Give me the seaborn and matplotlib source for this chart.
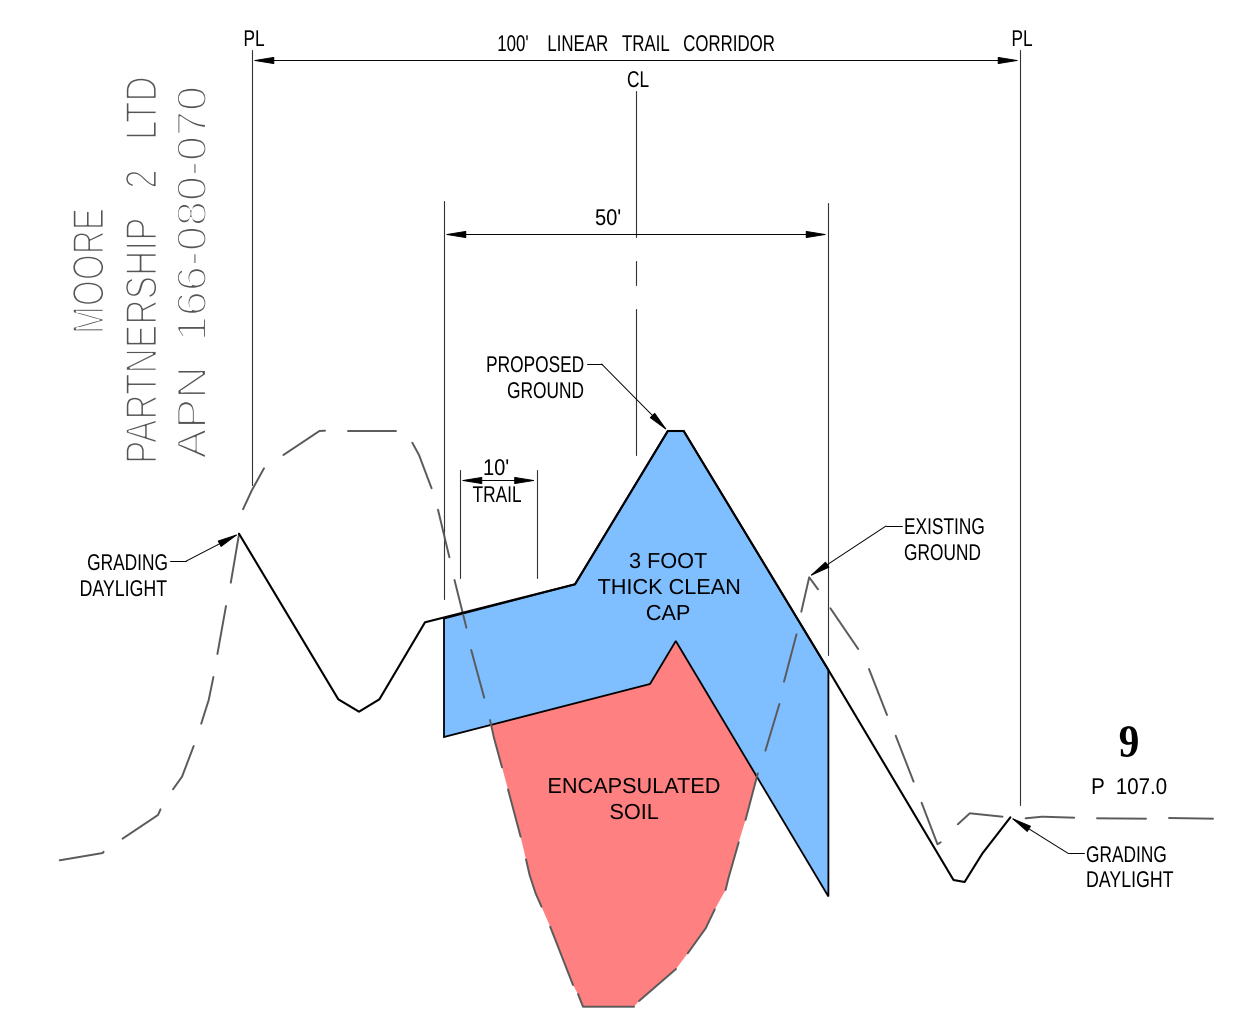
import pandas as pd
import seaborn as sns
import matplotlib.pyplot as plt
import matplotlib.patheffects as pe
from matplotlib.transforms import Affine2D

# Ground profiles (x, y in drawing units)
proposed_x = [239, 338.3, 359, 379.4, 425, 575, 667.8, 683.7, 828.4, 953.5, 964.6, 982.5, 1010.4]
proposed_y = [533.7, 699.3, 711.7, 699.3, 622.3, 584.3, 431, 431, 670, 880, 882, 853.3, 817.3]

# Existing ground is dashed by hand in the CAD file, one list per dash
existing_dashes = [
    [(59.7, 860.3), (102.8, 853), (103.6, 851.7)],
    [(122.5, 838.7), (158, 815), (160.5, 809.3)],
    [(173, 789.3), (182, 776.7), (193.7, 746)],
    [(201.2, 723.7), (208.7, 700), (213.4, 677)],
    [(217.4, 654), (226, 606)],
    [(230.8, 582.7), (239, 534.3)],
    [(243, 509.3), (252, 490), (264, 468.3)],
    [(283.4, 455), (319.4, 431), (325, 430.7)],
    [(347.8, 430.7), (396.4, 430.7)],
    [(412.3, 442.7), (419, 455), (431.6, 488.3)],
    [(438, 509.7), (449.4, 557.3)],
    [(454.5, 580), (466.4, 627.7)],
    [(471.2, 650), (484.2, 697.7)],
    [(490, 720), (494, 738), (502, 767.3)],
    [(508, 789.3), (520.6, 836.7)],
    [(526, 859.3), (529.6, 875), (535.6, 893.3), (541.5, 906.7)],
    [(550.2, 926.7), (573, 985)],
    [(578, 994), (583, 1006.7), (634, 1006.7)],
    [(639, 1001), (676, 969)],
    [(687.7, 953.3), (705.7, 928.3), (714.8, 909.3)],
    [(725.6, 890), (728.4, 878.3), (738.7, 842.3)],
    [(745.5, 820), (757.8, 773.3)],
    [(765.4, 750.7), (779.4, 704)],
    [(784, 681.7), (796.5, 634.3)],
    [(801.3, 611.7), (809.2, 577.3), (818, 589.3)],
    [(830.4, 608.3), (858.2, 649)],
    [(869, 669), (887, 715)],
    [(895.7, 735.7), (913.6, 781.7)],
    [(921.6, 802.7), (937.5, 844.3), (940.7, 842.3)],
    [(957.8, 824.3), (969.8, 813.3), (1002.5, 816.7)],
    [(1025.6, 818.3), (1042.3, 816.7), (1074.2, 817.7)],
    [(1097, 818.3), (1146, 818.7)],
    [(1169, 818), (1213, 818.7)],
]

cap_x = [444, 575, 667.8, 683.7, 828.4, 828.4, 675.8, 650, 444]
cap_y = [618.5, 584.3, 431, 431, 670, 896.5, 641, 684, 737]

soil_x = [491, 650, 675.8, 757.8, 745.5, 738.7, 728.4, 725.6, 714.8, 705.7, 687.7, 676, 639, 634,
          583, 578, 573, 550.2, 541.5, 535.6, 529.6, 526, 520.6, 508, 502, 494]
soil_y = [724, 684, 641, 773.3, 820, 842.3, 878.3, 890, 909.3, 928.3, 953.3, 969, 1001, 1006.7,
          1006.7, 994, 985, 926.7, 906.7, 893.3, 875, 859.3, 836.7, 789.3, 767.3, 738]

# Witness lines: x, top, bottom
witness_lines = [
    (252, 50, 485), (1020, 50, 805),
    (636, 91, 237), (636, 261, 285), (636, 309, 455),
    (444, 201, 599), (828, 203, 655),
    (460, 470, 578), (536.5, 470, 578),
]
# Dimension arrows: y, left, right
dimensions = [(60.5, 252, 1020), (234.5, 444, 828), (480.5, 460, 536.5)]
# Leaders: text end, elbow, arrow tip
leaders = [
    ((587, 364), (601.6, 364), (667.8, 431)),
    ((170, 561.3), (185.8, 561.3), (239, 533.7)),
    ((902, 526), (886, 526), (809, 576.7)),
    ((1084, 853.3), (1068, 853.3), (1010.4, 817.3)),
]

BLUE = "#80BFFF"
RED = "#FF8080"
GROUND = "#5A5A5A"
SANS = "Liberation Sans"

sns.set_theme(style="white")
fig, ax = plt.subplots(figsize=(12.44, 10.15), dpi=100)
fig.subplots_adjust(0, 0, 1, 1)
ax.set_xlim(0, 1244)
ax.set_ylim(1015, 0)
ax.set_axis_off()

ax.fill(soil_x, soil_y, color=RED, lw=0, zorder=1)
ax.fill(cap_x, cap_y, facecolor=BLUE, edgecolor="black", lw=1.3, zorder=2)

rows = []
for i, dash in enumerate(existing_dashes):
    for x, y in dash:
        rows.append({"dash": i, "x": x, "y": y})
existing = pd.DataFrame(rows)
sns.lineplot(data=existing, x="x", y="y", units="dash", estimator=None, sort=False,
             color=GROUND, lw=1.4, ax=ax, legend=False, zorder=3)

proposed = pd.DataFrame({"x": proposed_x, "y": proposed_y})
sns.lineplot(data=proposed, x="x", y="y", estimator=None, sort=False,
             color="black", lw=1.5, ax=ax, legend=False, zorder=4)

for x, top, bottom in witness_lines:
    ax.plot([x, x], [top, bottom], color="#333333", lw=0.8, zorder=2)


def arrow(tip, start):
    ax.annotate("", xy=tip, xytext=start,
                arrowprops=dict(arrowstyle="-|>,head_length=1.35,head_width=0.22", mutation_scale=10,
                                shrinkA=0, shrinkB=0, color="black", lw=0.7), zorder=5)


for y, left, right in dimensions:
    mid = (left + right) / 2
    arrow((left, y), (mid, y))
    arrow((right, y), (mid, y))

for end, elbow, tip in leaders:
    ax.plot([end[0], elbow[0]], [end[1], elbow[1]], color="black", lw=0.7, zorder=5)
    arrow(tip, elbow)


# No narrow CAD font is installed, so squeeze the glyph outlines about the text anchor
class Squeeze(pe.AbstractPathEffect):
    def __init__(self, anchor, sx=1.0, sy=1.0, erode=0.0):
        super().__init__()
        self.anchor = anchor
        self.sx = sx
        self.sy = sy
        self.erode = erode

    def draw_path(self, renderer, gc, tpath, affine, rgbFace=None):
        cx, cy = self.anchor
        squeezed = affine + Affine2D().translate(-cx, -cy).scale(self.sx, self.sy).translate(cx, cy)
        gc2 = renderer.new_gc()
        gc2.copy_properties(gc)
        if self.erode:
            gc2.set_linewidth(self.erode)
            gc2.set_foreground("white")
        renderer.draw_path(gc2, tpath, squeezed, rgbFace)
        gc2.restore()


def note(x, y, s, ha="center", size=16.4, family=SANS, sx=0.76, **kw):
    y = y + 1.5
    t = ax.text(x, y, s, ha=ha, va="center", fontsize=size, family=family, color="black", zorder=6, **kw)
    t.set_path_effects([Squeeze(ax.transData.transform((x, y)), sx=sx)])


note(254, 38, "PL")
note(1022, 38, "PL")
note(638, 79, "CL")
note(636, 43, "100'    LINEAR   TRAIL   CORRIDOR", sx=0.74)
note(608, 217, "50'", sx=0.88)
note(496, 467, "10'", sx=0.88)
note(497, 494, "TRAIL")
note(584, 364, "PROPOSED", ha="right")
note(584, 390, "GROUND", ha="right")
note(168, 562, "GRADING", ha="right")
note(167, 588, "DAYLIGHT", ha="right", sx=0.78)
note(904, 526, "EXISTING", ha="left")
note(904, 552, "GROUND", ha="left")
note(1086, 854, "GRADING", ha="left")
note(1086, 879, "DAYLIGHT", ha="left", sx=0.78)
note(1129, 786, "P  107.0", sx=0.9)
note(1129, 744, "9", size=33, family="Liberation Serif", sx=0.9, weight="bold")

note(668, 561, "3 FOOT", size=15.6, sx=1)
note(669, 587, "THICK CLEAN", size=15.6, sx=1)
note(668, 613, "CAP", size=15.6, sx=1)
note(633.5, 786, "ENCAPSULATED", size=15.6, sx=1)
note(634, 812, "SOIL", size=15.6, sx=1)

# Parcel names are hairline in the drawing: erode the glyphs with a white stroke
parcel = [
    (92, 271, "MOORE", 32, 0.75, 1.3),
    (145, 270, "PARTNERSHIP   2   LTD", 32, 0.79, 1.3),
    (195, 272.5, "APN  166-080-070", 30, 1.08, 1.6),
]
for x, y, s, size, squeeze, erode in parcel:
    t = ax.text(x, y, s, rotation=90, ha="center", va="center", fontsize=size, family=SANS,
                color="#555555", zorder=6)
    t.set_path_effects([Squeeze(ax.transData.transform((x, y)), sy=squeeze, erode=erode)])

fig.savefig("out.png", dpi=100, facecolor="white")
